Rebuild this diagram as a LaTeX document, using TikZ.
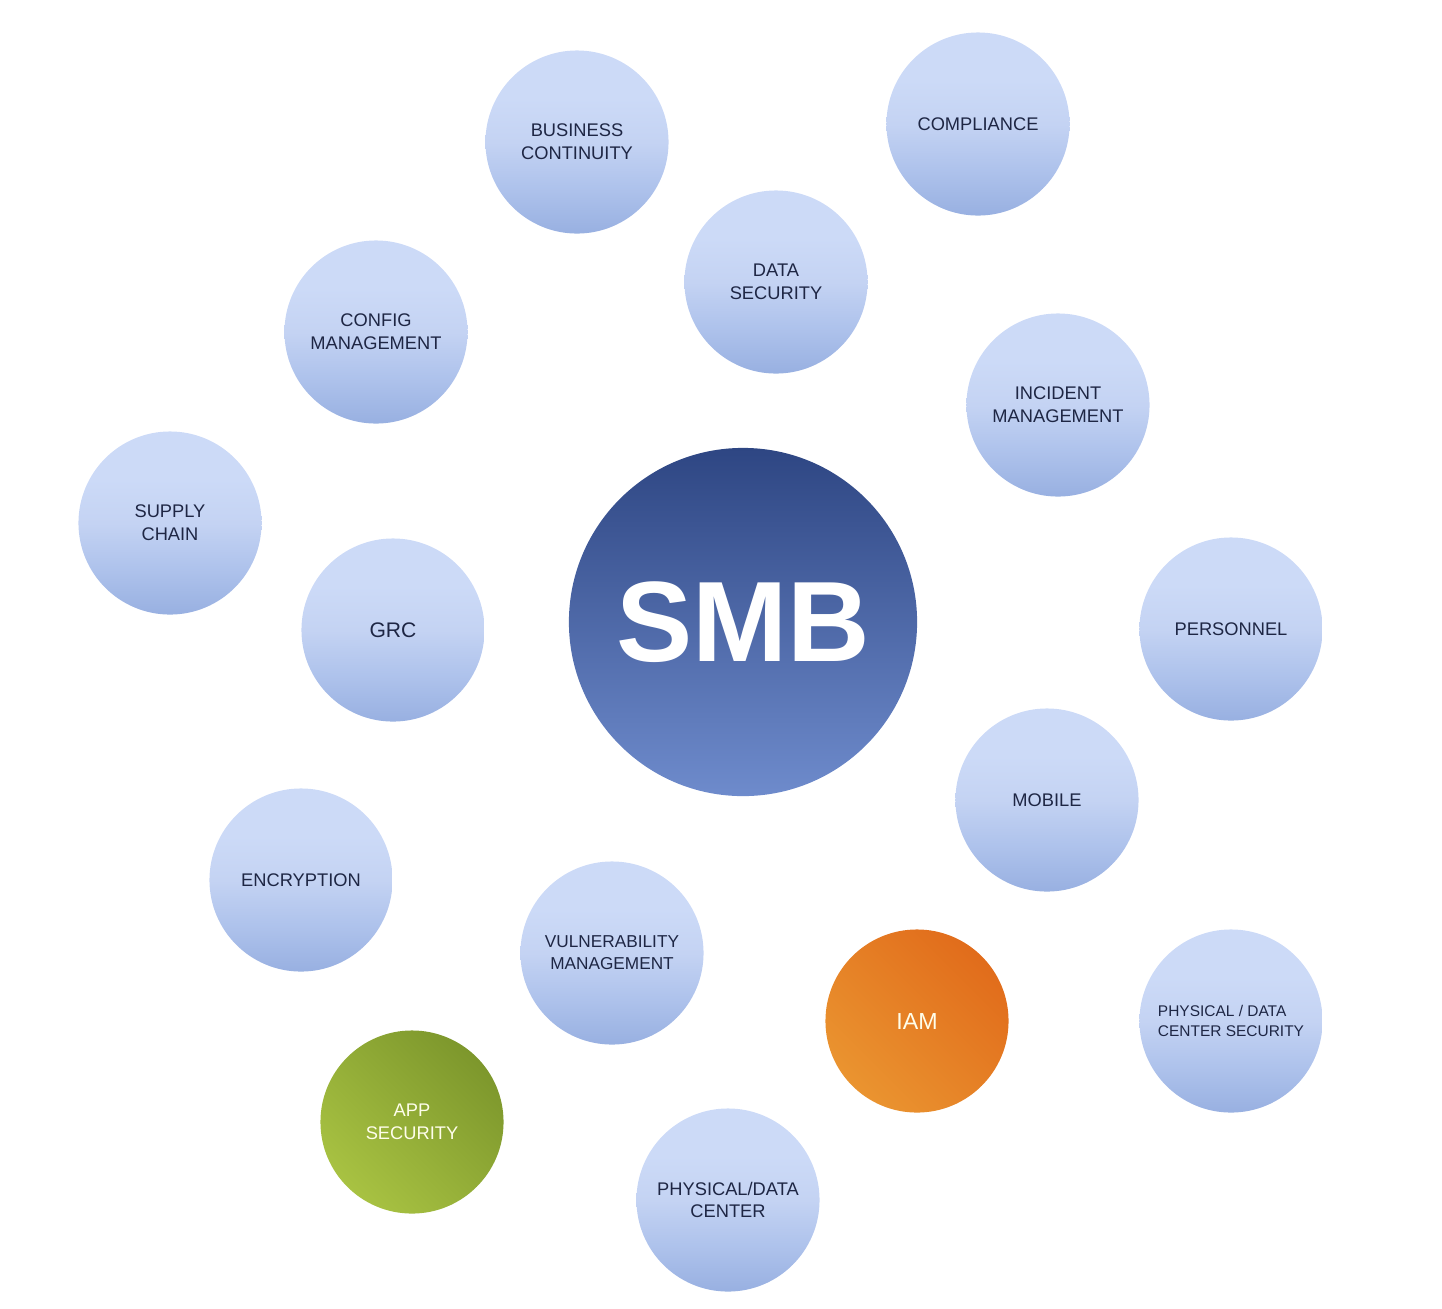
\documentclass[tikz,border=0pt]{standalone}
\usepackage{fontspec}
\setmainfont{Liberation Sans}
\usepackage{tikz}
\usetikzlibrary{positioning}
\usepackage{xcolor}

\definecolor{bubtop}{HTML}{CCDAF7}
\definecolor{bubmid}{HTML}{C4D3F3}
\definecolor{bublow}{HTML}{AFC3EC}
\definecolor{bubbot}{HTML}{98B0E1}
\definecolor{smbtop}{HTML}{2E4683}
\definecolor{smbbot}{HTML}{6E8BCC}
\definecolor{iamdark}{HTML}{E16C1B}
\definecolor{iamlight}{HTML}{EA9430}
\definecolor{appdark}{HTML}{7D972C}
\definecolor{applight}{HTML}{A8C242}
\definecolor{labeltext}{HTML}{1E2644}

\pgfdeclareverticalshading{bubshade}{100bp}{color(0bp)=(bubbot); color(25bp)=(bubbot);
  color(38bp)=(bublow); color(50bp)=(bubmid); color(62bp)=(bubtop); color(100bp)=(bubtop)}

\begin{document}
\begin{tikzpicture}[x=0.01cm,y=-0.01cm,
    bubble/.style={circle,minimum size=1.83cm,inner sep=0pt,align=center,
      shading=bubshade,text=labeltext,font=\fontsize{5.2}{6.5}\selectfont},
    hub/.style={circle,minimum size=3.48cm,inner sep=0pt,top color=smbtop,
      bottom color=smbbot,text=white,font=\fontsize{32.5}{36}\selectfont\bfseries},
    hotbubble/.style={bubble,text=white!92!yellow}]
  \useasboundingbox (0,0) rectangle (1442,1308);
  % centre of the cluster
  \node[hub] (smb) at (743,622) {SMB};
  % the blue topics
  \foreach \x/\y/\nm/\txt in {
      577/142/bizcont/{BUSINESS\\CONTINUITY},
      978/124/compliance/{COMPLIANCE},
      776/282/datasec/{DATA\\SECURITY},
      376/332/config/{CONFIG\\MANAGEMENT},
      1058/405/incident/{INCIDENT\\MANAGEMENT},
      170/523/supply/{SUPPLY\\CHAIN},
      1231/629/personnel/{PERSONNEL},
      1047/800/mobile/{MOBILE},
      301/880/encrypt/{ENCRYPTION},
      728/1200/physdc/{PHYSICAL/DATA\\CENTER}}{
    \node[bubble] (\nm) at (\x,\y) {\txt};
  }
  \node[bubble,font=\fontsize{6}{7}\selectfont] (grc) at (393,630) {GRC};
  \node[bubble,font=\fontsize{4.9}{6.3}\selectfont] (vuln) at (612,953)
    {VULNERABILITY\\MANAGEMENT};
  \node[bubble,align=left,font=\fontsize{4.4}{5.7}\selectfont] (physsec) at (1231,1021)
    {PHYSICAL / DATA\\CENTER SECURITY};
  % the highlighted ones
  \node[hotbubble,top color=iamdark,bottom color=iamlight,shading angle=-45,
    font=\fontsize{6.6}{8}\selectfont] (iam) at (917,1021) {IAM};
  \node[hotbubble,top color=appdark,bottom color=applight,shading angle=-45]
    (appsec) at (412,1122) {APP\\SECURITY};
\end{tikzpicture}
\end{document}
